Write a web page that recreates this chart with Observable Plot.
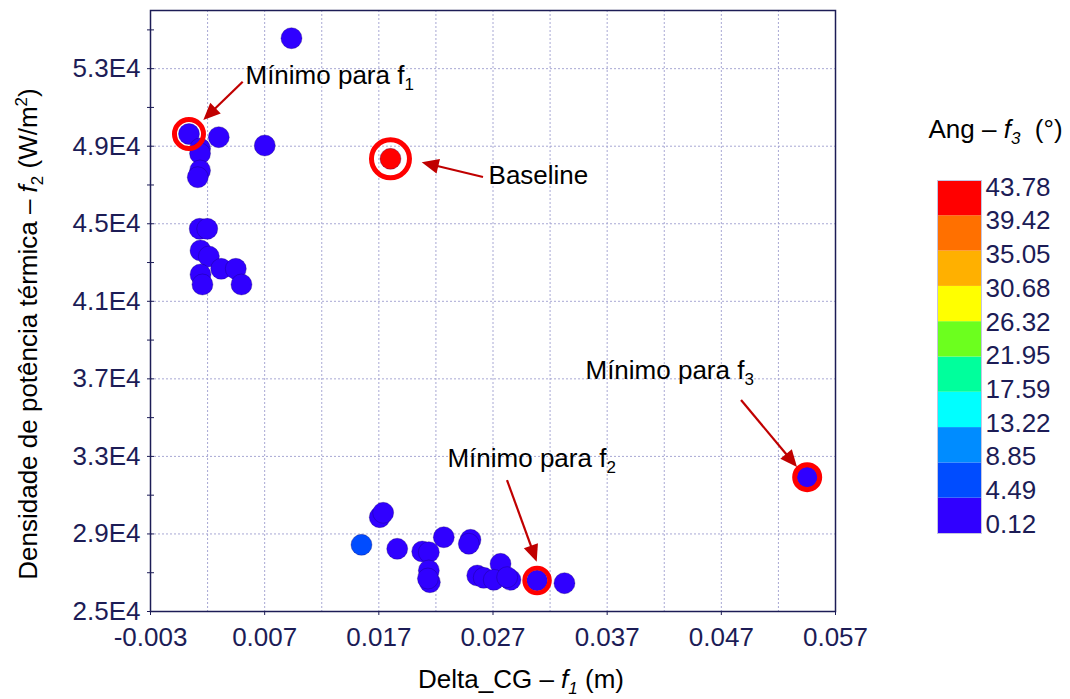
<!DOCTYPE html>
<html><head><meta charset="utf-8">
<script src="https://cdn.jsdelivr.net/npm/d3@7"></script>
<script src="https://cdn.jsdelivr.net/npm/@observablehq/plot@0.6"></script>
<style>
body{margin:0;background:#fff;}
#wrap{position:relative;width:1070px;height:699px;font-family:"Liberation Sans",Arial,sans-serif;background:#fff;}
#wrap svg{position:absolute;}
</style></head><body><div id="wrap"></div>
<script>
// ---- data ----
const f1 = [0.00935, 0.00037, 0.00298, 0.00701, 0.01802, 0.00134, 0.00134, 0.00134, 0.00114, 0.00131,
  0.00197, 0.00138, 0.00211, 0.00319, 0.00447, 0.00138, 0.00155, 0.00497, 0.01548, 0.01708,
  0.01738, 0.01861, 0.02080, 0.02138, 0.02269, 0.02503, 0.02488, 0.02138, 0.02147, 0.02130,
  0.02766, 0.02562, 0.02619, 0.02707, 0.02853, 0.02824, 0.03086, 0.03326, 0.05452];
const f2 = [54571, 49630, 49465, 49036, 48350, 48882, 48624, 47747, 47400, 44740,
  44740, 43620, 43311, 42677, 42677, 42382, 41867, 41867, 28440, 29864,
  30091, 28234, 28095, 28059, 28832, 28698, 28492, 27115, 26511, 26700,
  27460, 26857, 26738, 26635, 26635, 26769, 26599, 26460, 31927];
const f3 = [2.8, 1.9, 3.1, 2.2, 41.6, 2.5, 3.4, 1.7, 2.9, 3.6,
  2.4, 1.5, 3.2, 2.6, 3.9, 2.1, 3.0, 4.1, 6.4, 1.8,
  2.3, 3.5, 2.0, 2.7, 1.4, 3.3, 2.2, 3.8, 1.6, 2.9,
  2.4, 3.1, 1.9, 2.6, 3.7, 2.0, 1.3, 2.5, 0.12];

const fThresholds = [0.12, 4.49, 8.85, 13.22, 17.59, 21.95, 26.32, 30.68, 35.05, 39.42, 43.78];
const bandColors = ["#3000ff", "#004cff", "#008cff", "#00ffff", "#00ff9c", "#6cff1e", "#ffff00", "#ffb000", "#ff7000", "#ff0000"];

const xTicks = [-0.003, 0.007, 0.017, 0.027, 0.037, 0.047, 0.057];
const xGrid = [0.002, 0.007, 0.012, 0.017, 0.022, 0.027, 0.032, 0.037, 0.042, 0.047, 0.052];
const yMajor = [25000, 29000, 33000, 37000, 41000, 45000, 49000, 53000];
const yMinor = [25000, 27000, 29000, 31000, 33000, 35000, 37000, 39000, 41000, 43000, 45000, 47000, 49000, 51000, 53000, 55000];

// highlighted points (indices into the series)
const idxMinF1 = 1, idxBaseline = 4, idxMinF2 = 36, idxMinF3 = 38;

// annotations (data coordinates)
const annoText = ["Mínimo para f_{1}", "Baseline", "Mínimo para f_{2}", "Mínimo para f_{3}"];
const annoX = [0.00532, 0.02661, 0.02301, 0.03510];
const annoY = [52234, 47076, 32479, 37018];
const arrowTail = [[0.00512, 52302], [0.02617, 47386], [0.02827, 31757], [0.04877, 35883]];
const arrowTip = [[0.00167, 50326], [0.02080, 48144], [0.03087, 27543], [0.05367, 32428]];

const xTitle = "Delta_CG – *{f}~{1} (m)";
const yTitle = "Densidade de potência térmica – *{f}_{2} (W/m^{2})";
const legendTitle = "Ang – *{f}~{3}\u00a0 (°)";

// ---- build ----
const FONT = '"Liberation Sans", Arial, sans-serif';
const navy = "#1c1c56";
const arrowColor = "#c00000";
const points = f1.map((x, i) => ({f1: x, f2: f2[i], f3: f3[i], i}));
const pick = (i) => points.filter(d => d.i === i);
const annotations = annoText.map((t, i) => ({t, x: annoX[i], y: annoY[i]}));
const arrows = arrowTail.map((a, i) => ({x1: a[0], y1: a[1], x2: arrowTip[i][0], y2: arrowTip[i][1]}));
const colorScale = {type: "threshold", domain: fThresholds.slice(1, -1), range: bandColors};

function arrowsMark(index, scales) {
  const g = d3.create("svg:g");
  for (const a of arrows) {
    const x1 = scales.x(a.x1), y1 = scales.y(a.y1), x2 = scales.x(a.x2), y2 = scales.y(a.y2);
    const dx = x2 - x1, dy = y2 - y1, len = Math.hypot(dx, dy), ux = dx / len, uy = dy / len;
    const hl = 17, hw = 7.5;
    const bx = x2 - ux * hl, by = y2 - uy * hl;
    g.append("line").attr("x1", x1).attr("y1", y1).attr("x2", bx + ux * 2).attr("y2", by + uy * 2)
      .attr("stroke", arrowColor).attr("stroke-width", 2.2);
    g.append("path").attr("d", `M${x2},${y2}L${bx - uy * hw},${by + ux * hw}L${bx + uy * hw},${by - ux * hw}Z`)
      .attr("fill", arrowColor);
  }
  return g.node();
}

const main = Plot.plot({
  width: 1070, height: 699,
  marginLeft: 150, marginRight: 235, marginTop: 10, marginBottom: 88,
  style: {fontFamily: FONT, fontSize: "26px", background: "transparent", overflow: "visible"},
  x: {domain: [-0.003, 0.057], axis: null},
  y: {domain: [25000, 56000], axis: null},
  color: colorScale,
  marks: [
    Plot.gridX(xGrid, {stroke: "#a8a8d4", strokeOpacity: 1, strokeDasharray: "2,2"}),
    Plot.gridY(yMajor, {stroke: "#a8a8d4", strokeOpacity: 1, strokeDasharray: "2,2"}),
    Plot.dot(points, {x: "f1", y: "f2", fill: "f3", r: 10.5, stroke: "#14005a", strokeOpacity: 0.3, strokeWidth: 1}),
    Plot.dot(pick(idxMinF1), {x: "f1", y: "f2", r: 14.5, stroke: "#ff0000", strokeWidth: 5}),
    Plot.dot(pick(idxBaseline), {x: "f1", y: "f2", r: 19, stroke: "#ff0000", strokeWidth: 5}),
    Plot.dot(pick(idxMinF2), {x: "f1", y: "f2", r: 12.5, stroke: "#ff0000", strokeWidth: 4.5}),
    Plot.dot(pick(idxMinF3), {x: "f1", y: "f2", r: 12.5, stroke: "#ff0000", strokeWidth: 5}),
    arrowsMark,
    Plot.text(annotations, {x: "x", y: "y", text: "t", textAnchor: "start", lineAnchor: "bottom", fontSize: 26, fill: "black"}),
    Plot.axisX(xTicks, {anchor: "bottom", tickSize: 4, stroke: navy, tickFormat: () => "", label: null}),
    Plot.axisX(xTicks, {anchor: "bottom", tickSize: 0, tickPadding: 16, tickFormat: d => d.toFixed(3), fontSize: 26, fill: navy, label: null}),
    Plot.axisY(yMinor, {anchor: "left", tickSize: 7, dx: 4, stroke: navy, tickFormat: () => "", label: null}),
    Plot.axisY(yMajor, {anchor: "left", tickSize: 0, tickPadding: 10, tickFormat: d => (d / 1e4).toFixed(1) + "E4", fontSize: 26, fill: navy, label: null}),
    Plot.text([xTitle], {frameAnchor: "bottom", dx: 28, dy: 76, lineAnchor: "bottom", textAnchor: "middle", fontSize: 26, fill: "black"}),
    Plot.text([yTitle], {frameAnchor: "left", rotate: -90, dx: -122, dy: 23, lineAnchor: "middle", textAnchor: "middle", fontSize: 26, fill: "black"}),
    Plot.frame({stroke: navy, strokeWidth: 1.5})
  ]
});

const bands = bandColors.map((c, i) => ({lo: fThresholds[i], hi: fThresholds[i + 1]}));
const legendBars = Plot.plot({
  width: 170, height: 460, marginLeft: 37, marginRight: 89, marginTop: 80, marginBottom: 27,
  style: {fontFamily: FONT, fontSize: "26px", background: "transparent", overflow: "visible"},
  x: {domain: [0, 1], axis: null},
  y: {domain: [0.12, 43.78], axis: null},
  color: colorScale,
  marks: [
    Plot.rect(bands, {x1: 0, x2: 1, y1: "lo", y2: "hi", fill: d => (d.lo + d.hi) / 2}),
    Plot.frame({stroke: "#c4c4e0", strokeWidth: 1}),
    Plot.text([legendTitle], {frameAnchor: "top-left", dx: -9, dy: -43, lineAnchor: "bottom", textAnchor: "start", fontSize: 26, fill: "black"})
  ]
});
const legendLabels = Plot.plot({
  width: 170, height: 460, marginLeft: 85, marginRight: 0, marginTop: 87, marginBottom: 36,
  style: {fontFamily: FONT, fontSize: "26px", background: "transparent", overflow: "visible"},
  x: {domain: [0, 1], axis: null},
  y: {domain: [0.12, 43.78], axis: null},
  marks: [
    Plot.text(fThresholds, {x: 0, y: d => d, text: d => d.toFixed(2), textAnchor: "start", lineAnchor: "middle", fontSize: 26, fill: navy})
  ]
});

function richText(svg) {
  svg.querySelectorAll("text").forEach(t => {
    const s = t.textContent;
    if (!/[_^*~]\{/.test(s)) return;
    while (t.firstChild) t.removeChild(t.firstChild);
    const re = /([_^*~])\{([^}]*)\}/g;
    let last = 0, m, pending = 0;
    const add = (str, kind) => {
      const ts = document.createElementNS("http://www.w3.org/2000/svg", "tspan");
      ts.textContent = str;
      let shift = 0;
      if (kind === "_" || kind === "~") { shift = 6; ts.setAttribute("font-size", "17px"); }
      if (kind === "^") { shift = -10; ts.setAttribute("font-size", "17px"); }
      if (kind === "*" || kind === "~") ts.setAttribute("font-style", "italic");
      const dy = shift - pending;
      if (dy) ts.setAttribute("dy", dy);
      pending = shift;
      t.appendChild(ts);
    };
    while ((m = re.exec(s))) {
      if (m.index > last) add(s.slice(last, m.index), "");
      add(m[2], m[1]);
      last = re.lastIndex;
    }
    if (last < s.length) add(s.slice(last), "");
  });
}

const wrap = document.getElementById("wrap");
for (const [svg, left, top] of [[main, 0, 0], [legendBars, 900, 100], [legendLabels, 900, 100]]) {
  richText(svg);
  svg.style.left = left + "px";
  svg.style.top = top + "px";
  wrap.appendChild(svg);
}
</script></body></html>
